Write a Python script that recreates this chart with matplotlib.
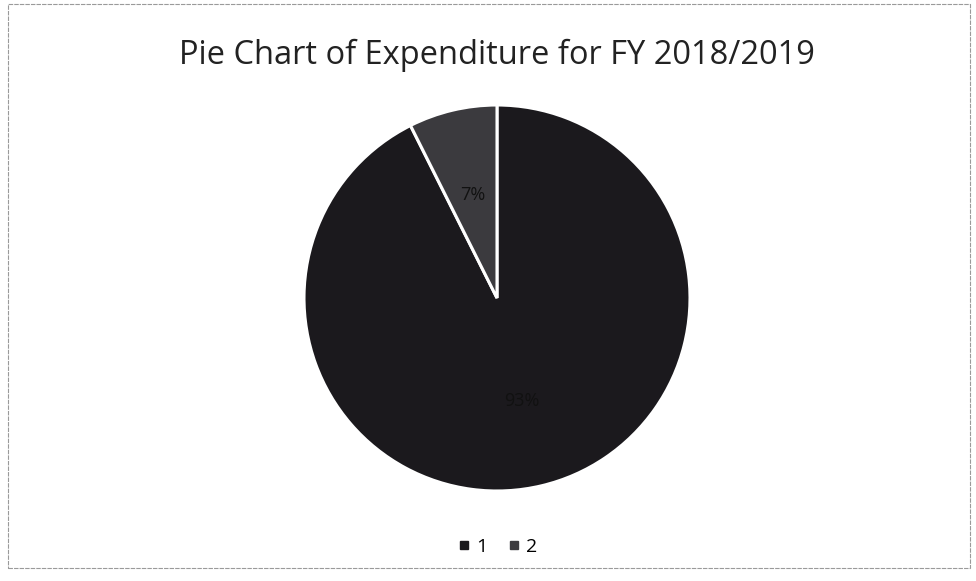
import matplotlib
matplotlib.use("Agg")
import matplotlib.pyplot as plt
from matplotlib.patches import Rectangle
from matplotlib.lines import Line2D

categories = ["1", "2"]
values = [92.6, 7.4]
colors = ["#1b191d", "#3b3a3e"]
title = "Pie Chart of Expenditure for FY 2018/2019"

plt.rcParams['font.family'] = ['Open Sans', 'DejaVu Sans']

fig = plt.figure(figsize=(9.76, 5.81), dpi=100)
fig.patch.set_facecolor("white")

# pie axes: center ~ (497, 298) px, radius ~192 px
W, H = 976, 581
cx, cy, r = 497, 298, 193
ax = fig.add_axes([(cx - r) / W, 1 - (cy + r) / H, 2 * r / W, 2 * r / H])
wedges, texts, autotexts = ax.pie(
    values, colors=colors, startangle=90, counterclock=False,
    autopct="%1.0f%%", pctdistance=0.55,
    wedgeprops=dict(edgecolor="white", linewidth=2.2),
    textprops=dict(color="#111111", fontsize=13),
)
ax.set_aspect("equal")
ax.set_xlim(-1, 1)
ax.set_ylim(-1, 1)

fig.text(497 / W, 1 - 55 / H, title, ha="center", va="center",
         fontsize=23.5, color="#222222")

handles = [Line2D([], [], marker="s", linestyle="none", markersize=6,
                  markerfacecolor=c, markeredgecolor=c) for c in colors]
fig.legend(handles, categories, loc="center", bbox_to_anchor=(497 / W, 1 - 547 / H),
           ncol=2, frameon=False, fontsize=14, handletextpad=0.2,
           columnspacing=1.0, handlelength=0.8)

fig.add_artist(Rectangle((8 / W, 1 - 568 / H), (970 - 8) / W, (568 - 4) / H,
                         transform=fig.transFigure, fill=False,
                         edgecolor="#9a9a9a", linewidth=0.8, linestyle=(0, (4, 1))))

fig.savefig("out.png", dpi=100, facecolor="white")
